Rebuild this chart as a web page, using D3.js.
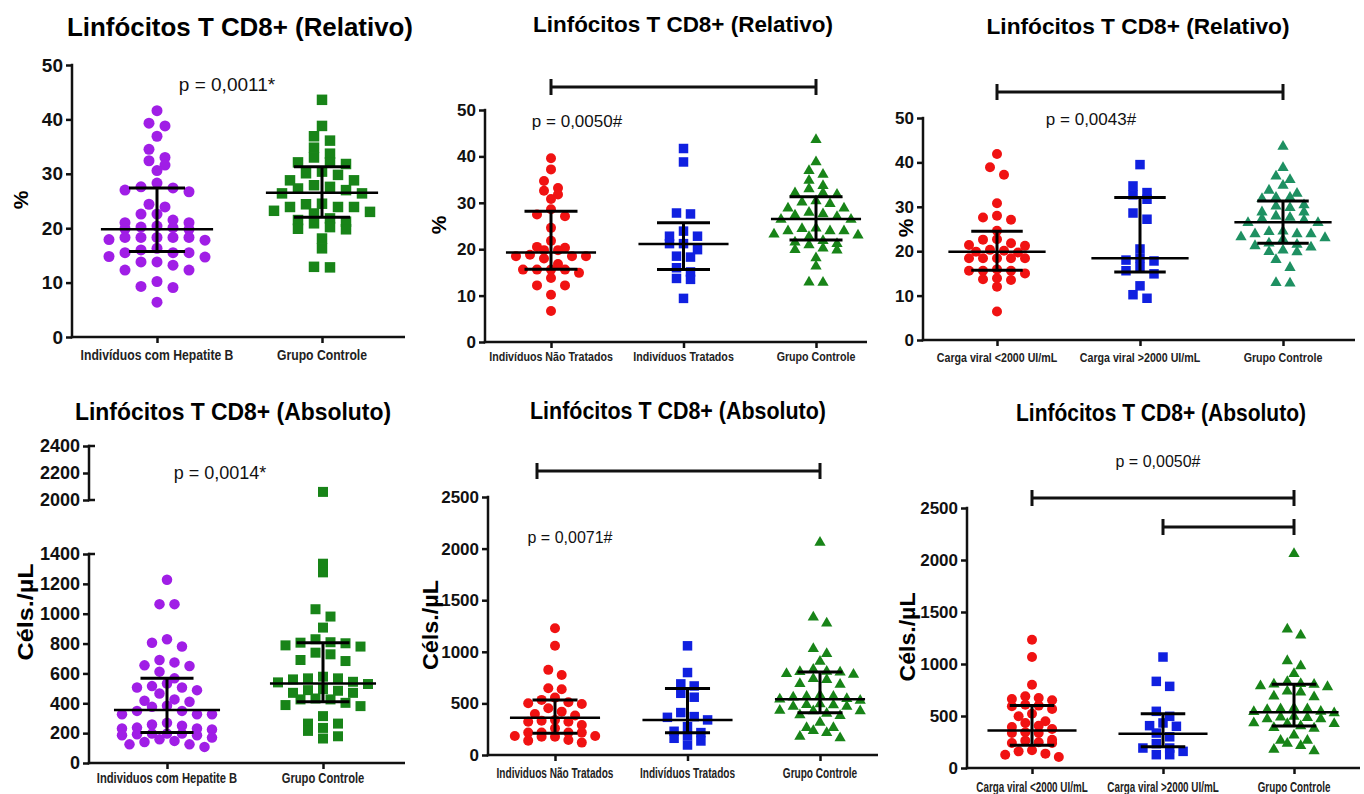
<!DOCTYPE html>
<html>
<head>
<meta charset="utf-8">
<script src="https://cdn.jsdelivr.net/npm/d3@7"></script>
<style>
  body { margin: 0; background: #fff; }
  svg { display: block; font-family: "Liberation Sans", Arial, sans-serif; }
  .cat { font-weight: bold; fill: #222; }
</style>
</head>
<body>
<script>
// ---- data ----
// relative (%)
const hepBRel = [41.6, 39.3, 38.8, 36.9, 34.5, 33.0, 32.4, 31.6, 30.6, 28.3, 27.4, 27.0, 27.6, 26.7, 24.4, 23.9,
  22.6, 22.6, 21.5, 21.0, 20.4, 20.2, 19.9, 19.8, 20.1, 21.0, 18.3, 18.3, 17.8, 18.3, 17.9, 18.3, 18.3,
  15.5, 14.8, 16.3, 16.0, 15.5, 14.7, 15.5, 13.8, 13.2, 13.8, 12.3, 12.3, 9.3, 10.2, 9.1, 6.4];
const controleRel = [43.6, 38.8, 36.9, 36.1, 34.8, 33.7, 33.0, 32.1, 31.8, 32.1, 30.1, 29.8, 30.4, 28.8, 28.8,
  27.9, 27.6, 27.0, 27.3, 26.4, 26.4, 24.4, 23.9, 24.5, 23.9, 23.9, 23.2, 22.7, 23.0, 21.8, 21.2, 21.5,
  20.9, 20.2, 19.8, 19.9, 18.1, 16.3, 12.8, 12.9];
const naoTratRel = [39.6, 37.2, 34.7, 32.6, 33.2, 30.8, 31.8, 27.5, 27.1, 28.6, 24.6, 21.8, 20.3, 19.8, 19.8,
  20.5, 18.5, 18.5, 18.0, 18.5, 18.8, 15.6, 15.6, 16.8, 15.6, 14.9, 15.6, 13.8, 12.2, 12.2, 10.2, 6.7];
const tratRel = [41.7, 38.8, 27.6, 27.8, 23.9, 22.8, 22.8, 21.2, 21.2, 19.9, 18.3, 18.5, 16.0, 15.1, 13.7, 13.5, 9.4];
const cvBaixaRel = [41.9, 38.9, 37.2, 30.8, 27.1, 28.0, 27.6, 24.6, 22.6, 22.7, 21.2, 20.3, 19.7, 20.1, 19.9,
  21.4, 21.8, 18.4, 18.4, 18.4, 18.4, 18.4, 15.6, 15.6, 15.9, 15.0, 15.6, 13.9, 13.5, 13.7, 12.0, 6.4];
const cvAltaRel = [39.5, 33.2, 34.7, 31.7, 32.7, 28.6, 27.2, 20.5, 18.4, 17.8, 18.0, 15.6, 14.9, 16.4, 12.2, 9.4, 10.2];

// absolute (cells/uL)
const hepBAbs = [1228, 1064, 1064, 829, 806, 780, 654, 690, 674, 650, 612, 533, 506, 488, 506, 515, 567, 417,
  410, 426, 466, 383, 349, 327, 327, 327, 349, 376, 258, 237, 231, 224, 231, 249, 269, 170, 148, 125, 108,
  125, 141, 159, 197, 197, 186, 186, 193, 197];
const controleAbs = [2060, 1335, 1277, 1030, 981, 907, 829, 809, 788, 780, 802, 806, 728, 739, 683, 690, 567,
  560, 540, 567, 578, 544, 529, 470, 488, 484, 495, 470, 426, 403, 388, 381, 426, 432, 314, 264, 264, 235,
  215, 164, 179];
const naoTratAbs = [1229, 1058, 825, 776, 647, 637, 534, 495, 556, 511, 453, 398, 420, 501, 382, 340, 323, 323,
  333, 217, 217, 184, 217, 184, 217, 178, 146, 120, 139, 178, 260, 290];
const tratAbs = [1058, 799, 669, 689, 560, 598, 411, 365, 340, 372, 217, 162, 97, 136, 188, 275, 230];
const cvBaixaAbs = [1234, 1067, 801, 689, 673, 663, 651, 609, 593, 567, 497, 522, 433, 407, 394, 343, 336, 336,
  375, 263, 240, 272, 240, 247, 170, 138, 106, 128, 160, 600, 450];
const cvAltaAbs = [1067, 833, 785, 497, 545, 433, 401, 407, 336, 192, 160, 128, 128, 192, 234, 300];

// median, Q1, Q3 as drawn
const statsHepBRel = [19.8, 15.7, 27.4], statsCtrlRel1 = [26.5, 22.0, 31.3];
const statsNaoTratRel = [19.3, 15.7, 28.2], statsTratRel = [21.1, 15.6, 25.7], statsCtrlRel2 = [26.5, 22.0, 31.3];
const statsCvBaixaRel = [19.9, 15.7, 24.5], statsCvAltaRel = [18.4, 15.3, 32.1], statsCtrlRel3 = [26.5, 21.8, 31.3];
const statsHepBAbs = [355, 205, 567], statsCtrlAbs1 = [533, 410, 805];
const statsNaoTratAbs = [360, 210, 534], statsTratAbs = [340, 215, 645], statsCtrlAbs2 = [540, 410, 805];
const statsCvBaixaAbs = [360, 218, 600], statsCvAltaAbs = [330, 205, 522], statsCtrlAbs3 = [535, 405, 805];

// labels / ticks
const catsHepB = ['Indivíduos com Hepatite B', 'Grupo Controle'];
const catsHepB2 = ['Individuos com Hepatite B', 'Grupo Controle'];
const catsTrat = ['Indivíduos Não Tratados', 'Indivíduos Tratados', 'Grupo Controle'];
const catsTrat2 = ['Individuos Não Tratados', 'Indivíduos Tratados', 'Grupo Controle'];
const catsCv = ['Carga viral <2000 UI/mL', 'Carga viral >2000 UI/mL', 'Grupo Controle'];
const ticksRel = [0, 10, 20, 30, 40, 50];
const ticksAbs = [0, 500, 1000, 1500, 2000, 2500];
const ticksAbsLow = [0, 200, 400, 600, 800, 1000, 1200, 1400];
const ticksAbsHigh = [2000, 2200, 2400];

const PURPLE = '#a01ee6', RED = '#f01212', BLUE = '#1020e0', GREEN = '#188418', TEAL = '#1e9062';

const panels = [
  { title: 'Linfócitos T CD8+ (Relativo)', tx: 240, ty: 27, tsize: 25, tlen: 346,
    xr: [72, 405], cx: [157, 322], ydom: [0, 50], yr: [337, 65], ticks: ticksRel, tfs: 19,
    ylab: '%', ylx: 20, yly: 200, ylen: null, p: 'p = 0,0011*', px: 227, py: 84, pfs: 19,
    caty: 355, catfs: 14, catsx: 0.87,
    diam: 11, step: 8, mw: 0.34, cw: 0.17,
    groups: [
      { cat: catsHepB[0], values: hepBRel, stats: statsHepBRel, color: PURPLE, shape: 'circle' },
      { cat: catsHepB[1], values: controleRel, stats: statsCtrlRel1, color: GREEN, shape: 'square' }] },
  { title: 'Linfócitos T CD8+ (Relativo)', tx: 683, ty: 24, tsize: 22, tlen: 300,
    xr: [485, 867], cx: [551, 816], ydom: [0, 50], yr: [342, 110], ticks: ticksRel, tfs: 17,
    ylab: '%', ylx: 438, yly: 225, p: 'p = 0,0050#', px: 577, py: 121, pfs: 17,
    caty: 357, catfs: 13, catsx: 0.82,
    diam: 10, step: 7, mw: 0.34, cw: 0.2,
    brackets: [{ from: 0, to: 2, y: 87 }],
    groups: [
      { cat: catsTrat[0], values: naoTratRel, stats: statsNaoTratRel, color: RED, shape: 'circle' },
      { cat: catsTrat[1], values: tratRel, stats: statsTratRel, color: BLUE, shape: 'square' },
      { cat: catsTrat[2], values: controleRel, stats: statsCtrlRel2, color: GREEN, shape: 'triangle' }] },
  { title: 'Linfócitos T CD8+ (Relativo)', tx: 1138, ty: 26, tsize: 22, tlen: 303,
    xr: [923, 1355], cx: [997, 1283], ydom: [0, 50], yr: [340, 118], ticks: ticksRel, tfs: 17,
    ylab: '%', ylx: 905, yly: 228, p: 'p = 0,0043#', px: 1091, py: 119, pfs: 17,
    caty: 358, catfs: 13, catsx: 0.82,
    diam: 10, step: 7, mw: 0.34, cw: 0.18,
    brackets: [{ from: 0, to: 2, y: 92 }],
    groups: [
      { cat: catsCv[0], values: cvBaixaRel, stats: statsCvBaixaRel, color: RED, shape: 'circle' },
      { cat: catsCv[1], values: cvAltaRel, stats: statsCvAltaRel, color: BLUE, shape: 'square' },
      { cat: catsCv[2], values: controleRel, stats: statsCtrlRel3, color: TEAL, shape: 'triangle' }] },
  { title: 'Linfócitos T CD8+ (Absoluto)', tx: 233, ty: 411, tsize: 24, tlen: 316,
    xr: [89, 405], cx: [167, 323], ydom: [0, 1400, 2000, 2400], yr: [763, 554, 500, 446],
    ticks: ticksAbsLow, ticksHigh: ticksAbsHigh, tfs: 18, broken: true,
    ylab: 'Céls./µL', ylx: 25, yly: 612, ylen: 97, p: 'p = 0,0014*', px: 220, py: 473, pfs: 18,
    caty: 779, catfs: 14, catsx: 0.8,
    diam: 10.5, step: 7.5, mw: 0.34, cw: 0.17,
    groups: [
      { cat: catsHepB2[0], values: hepBAbs, stats: statsHepBAbs, color: PURPLE, shape: 'circle' },
      { cat: catsHepB2[1], values: controleAbs, stats: statsCtrlAbs1, color: GREEN, shape: 'square' }] },
  { title: 'Linfócitos T CD8+ (Absoluto)', tx: 678, ty: 410, tsize: 24, tlen: 296,
    xr: [488, 878], cx: [555, 820], ydom: [0, 2500], yr: [755, 497], ticks: ticksAbs, tfs: 17,
    ylab: 'Céls./µL', ylx: 430, yly: 625, ylen: 90, p: 'p = 0,0071#', px: 570, py: 537, pfs: 16,
    caty: 773, catfs: 14, catsx: 0.72,
    diam: 10, step: 6.7, mw: 0.34, cw: 0.17,
    brackets: [{ from: 0, to: 2, y: 471, dx0: -18 }],
    groups: [
      { cat: catsTrat2[0], values: naoTratAbs, stats: statsNaoTratAbs, color: RED, shape: 'circle' },
      { cat: catsTrat2[1], values: tratAbs, stats: statsTratAbs, color: BLUE, shape: 'square' },
      { cat: catsTrat2[2], values: controleAbs, stats: statsCtrlAbs2, color: GREEN, shape: 'triangle' }] },
  { title: 'Linfócitos T CD8+ (Absoluto)', tx: 1161, ty: 412, tsize: 24, tlen: 290,
    xr: [967, 1360], cx: [1032, 1294], ydom: [0, 2500], yr: [768, 508], ticks: ticksAbs, tfs: 17,
    ylab: 'Céls./µL', ylx: 907, yly: 637, ylen: 89, p: 'p = 0,0050#', px: 1158, py: 461, pfs: 16,
    caty: 787, catfs: 14.5, catsx: 0.68,
    diam: 10, step: 6.7, mw: 0.34, cw: 0.17,
    brackets: [{ from: 0, to: 2, y: 498 }, { from: 1, to: 2, y: 527 }],
    groups: [
      { cat: catsCv[0], values: cvBaixaAbs, stats: statsCvBaixaAbs, color: RED, shape: 'circle' },
      { cat: catsCv[1], values: cvAltaAbs, stats: statsCvAltaAbs, color: BLUE, shape: 'square' },
      { cat: catsCv[2], values: controleAbs, stats: statsCtrlAbs3, color: GREEN, shape: 'triangle' }] }
];

const W = 1364, H = 794;
const svg = d3.create('svg').attr('width', W).attr('height', H).attr('viewBox', [0, 0, W, H]);
document.body.append(svg.node());

const symbols = { circle: d3.symbolCircle, square: d3.symbolSquare, triangle: d3.symbolTriangle };

// column scatter: points grouped into rows of close values (at most 7 per row),
// each row spread symmetrically about the column centre
function swarm(values, y, cx, diam, step, maxN = 7) {
  const pts = values.map(v => ({ v, y: y(v) })).sort((a, b) => a.y - b.y);
  const rows = [];
  let cur = null;
  pts.forEach(p => {
    if (!cur || p.y - cur[0].y > diam * 0.8 || cur.length >= maxN) { cur = [p]; rows.push(cur); }
    else cur.push(p);
  });
  rows.forEach(r => {
    const n = r.length;
    const offs = d3.range(n).map(i => (i - (n - 1) / 2) * 2 * step)
      .sort((a, b) => Math.abs(a) - Math.abs(b) || a - b);
    r.sort((a, b) => b.v - a.v).forEach((p, i) => { p.x = cx + offs[i]; });
  });
  return pts;
}

panels.forEach(cfg => {
  const g = svg.append('g');
  const cats = cfg.groups.map(d => d.cat);
  const x = d3.scalePoint().domain(cats).range(cfg.cx);
  const y = d3.scaleLinear().domain(cfg.ydom).range(cfg.yr);
  const step = (cfg.cx[1] - cfg.cx[0]) / (cats.length - 1);

  // title
  g.append('text')
    .attr('x', cfg.tx).attr('y', cfg.ty)
    .attr('text-anchor', 'middle').attr('dominant-baseline', 'central')
    .attr('font-weight', 'bold').attr('font-size', cfg.tsize)
    .attr('textLength', cfg.tlen).attr('lengthAdjust', 'spacingAndGlyphs')
    .text(cfg.title);

  // y axis
  const yAxisG = g.append('g').attr('transform', `translate(${cfg.xr[0]},0)`);
  const tickSets = cfg.broken ? [cfg.ticks, cfg.ticksHigh] : [cfg.ticks];
  tickSets.forEach(ts => {
    yAxisG.append('g')
      .call(d3.axisLeft(y).tickValues(ts).tickSize(6).tickPadding(3).tickFormat(d3.format('d')))
      .call(a => a.select('.domain').remove())
      .call(a => a.selectAll('line').attr('stroke', '#111').attr('stroke-width', 2.5))
      .call(a => a.selectAll('text').attr('fill', '#111').attr('font-weight', 'bold')
        .attr('font-size', cfg.tfs).attr('font-family', '"Liberation Sans", Arial, sans-serif'));
  });
  const segs = cfg.broken
    ? [[cfg.ydom[0], cfg.ydom[1]], [cfg.ydom[2], cfg.ydom[3]]]
    : [[cfg.ydom[0], cfg.ydom[cfg.ydom.length - 1]]];
  segs.forEach(([a, b]) => {
    yAxisG.append('line').attr('x1', 0).attr('x2', 0)
      .attr('y1', y(a) + 1.2).attr('y2', y(b) - 1.2)
      .attr('stroke', '#111').attr('stroke-width', 2.5);
  });
  if (cfg.broken) {
    [cfg.ydom[1], cfg.ydom[2], cfg.ydom[3]].forEach(v => {
      yAxisG.append('line').attr('x1', -1).attr('x2', 6)
        .attr('y1', y(v)).attr('y2', y(v))
        .attr('stroke', '#111').attr('stroke-width', 2.5);
    });
  }

  // x axis
  const y0 = y(0);
  const xAxisG = g.append('g').attr('transform', `translate(0,${y0})`);
  xAxisG.call(d3.axisBottom(x).tickSize(6).tickFormat(''))
    .call(a => a.select('.domain').remove())
    .call(a => a.selectAll('line').attr('stroke', '#111').attr('stroke-width', 2.5));
  xAxisG.append('line').attr('x1', cfg.xr[0] - 1.2).attr('x2', cfg.xr[1])
    .attr('stroke', '#111').attr('stroke-width', 2.5);
  // condensed category labels (horizontal squeeze of a bold face)
  g.selectAll('text.cat').data(cats).join('text')
    .attr('class', 'cat')
    .attr('transform', d => `translate(${x(d)},${cfg.caty}) scale(${cfg.catsx},1)`)
    .attr('font-size', cfg.catfs)
    .attr('text-anchor', 'middle').attr('dominant-baseline', 'central')
    .text(d => d);

  // y label
  const yl = g.append('text')
    .attr('transform', `translate(${cfg.ylx},${cfg.yly}) rotate(-90)`)
    .attr('text-anchor', 'middle').attr('dominant-baseline', 'central')
    .attr('font-weight', 'bold').attr('font-size', cfg.ylen ? 22 : 21)
    .text(cfg.ylab);
  if (cfg.ylen) yl.attr('textLength', cfg.ylen).attr('lengthAdjust', 'spacingAndGlyphs');

  // p value
  g.append('text')
    .attr('x', cfg.px).attr('y', cfg.py)
    .attr('text-anchor', 'middle').attr('dominant-baseline', 'central')
    .attr('font-size', cfg.pfs).attr('fill', '#111')
    .text(cfg.p);

  // brackets
  (cfg.brackets || []).forEach(b => {
    const x1 = x(cats[b.from]) + (b.dx0 || 0), x2 = x(cats[b.to]);
    const br = g.append('g').attr('stroke', '#111').attr('stroke-width', 3);
    br.append('line').attr('x1', x1).attr('x2', x2).attr('y1', b.y).attr('y2', b.y);
    br.append('line').attr('x1', x1).attr('x2', x1).attr('y1', b.y - 8).attr('y2', b.y + 8);
    br.append('line').attr('x1', x2).attr('x2', x2).attr('y1', b.y - 8).attr('y2', b.y + 8);
  });

  // points
  cfg.groups.forEach(grp => {
    const pts = swarm(grp.values, y, x(grp.cat), cfg.diam, cfg.step);
    const d = cfg.diam;
    const size = grp.shape === 'circle' ? Math.PI * (d / 2) ** 2
      : grp.shape === 'square' ? (d - 0.5) ** 2 : d * d * 0.55;
    g.append('g').selectAll('path').data(pts).join('path')
      .attr('transform', p => `translate(${p.x},${p.y})`)
      .attr('d', d3.symbol(symbols[grp.shape], size))
      .attr('fill', grp.color);
  });

  // median + IQR
  cfg.groups.forEach(grp => {
    const cx = x(grp.cat);
    const [med, q1, q3] = grp.stats;
    const eg = g.append('g').attr('stroke', '#000').attr('stroke-width', 2.5);
    eg.append('line').attr('x1', cx - step * cfg.mw).attr('x2', cx + step * cfg.mw)
      .attr('y1', y(med)).attr('y2', y(med));
    eg.append('line').attr('x1', cx).attr('x2', cx).attr('y1', y(q1)).attr('y2', y(q3)).attr('stroke-width', 3);
    [q1, q3].forEach(q => {
      eg.append('line').attr('x1', cx - step * cfg.cw).attr('x2', cx + step * cfg.cw)
        .attr('y1', y(q)).attr('y2', y(q)).attr('stroke-width', 3);
    });
  });
});
</script>
</body>
</html>
